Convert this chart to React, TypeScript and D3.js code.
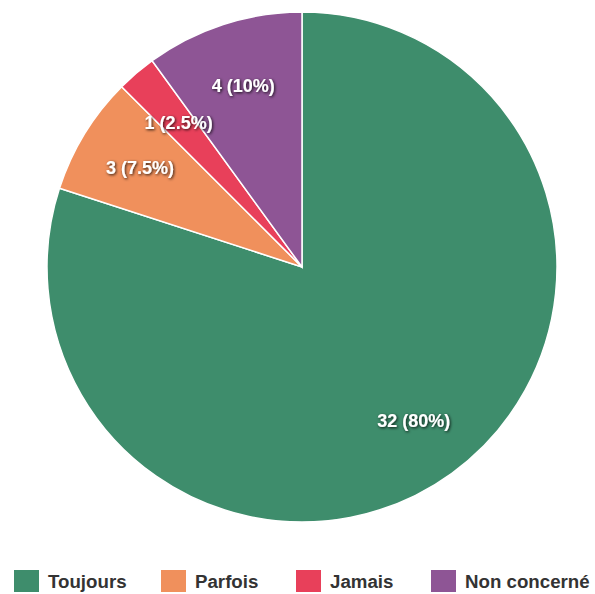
import React from "react";
import * as d3 from "d3";

const categories = ["Toujours", "Parfois", "Jamais", "Non concerné"];
const values = [32, 3, 1, 4];
const percents = ["80%", "7.5%", "2.5%", "10%"];
const colors = ["#3e8d6c", "#f0905c", "#e8405a", "#8e5595"];

export default function App() {
  const W = 595, H = 594;
  const cx = 302, cy = 267, R = 255;
  const pie = d3.pie<number>().sort(null).value((d) => d)(values);
  const arc = d3.arc<d3.PieArcDatum<number>>().innerRadius(0).outerRadius(R);
  const labelArc = d3.arc<d3.PieArcDatum<number>>().innerRadius(R * 0.745).outerRadius(R * 0.745);
  const legendX = [14, 161, 296, 431];
  const font = "'Liberation Sans', Arial, Helvetica, sans-serif";
  return (
    <svg width={W} height={H} style={{ position: "absolute", left: 0, top: 0 }}>
      <defs>
        <filter id="sh" x="-20%" y="-40%" width="140%" height="180%">
          <feDropShadow dx="1" dy="1" stdDeviation="1.5" floodColor="#000" floodOpacity="0.85" />
        </filter>
      </defs>
      <g transform={`translate(${cx},${cy})`}>
        {pie.map((p, i) => (
          <path key={i} d={arc(p) || ""} fill={colors[i]} stroke="#fff" strokeWidth={1.5} />
        ))}
        {pie.map((p, i) => {
          const [x, y] = labelArc.centroid(p);
          return (
            <text key={i} x={x} y={y} textAnchor="middle" dominantBaseline="central" fill="#fff"
              fontFamily={font} fontWeight="bold" fontSize={18} filter="url(#sh)">
              {`${values[i]} (${percents[i]})`}
            </text>
          );
        })}
      </g>
      <g>
        {categories.map((c, i) => (
          <g key={c}>
            <rect x={legendX[i]} y={570} width={25} height={22} fill={colors[i]} />
            <text x={legendX[i] + 34} y={588} fill="#333" fontFamily={font} fontWeight="bold" fontSize={18.7}>
              {c}
            </text>
          </g>
        ))}
      </g>
    </svg>
  );
}
